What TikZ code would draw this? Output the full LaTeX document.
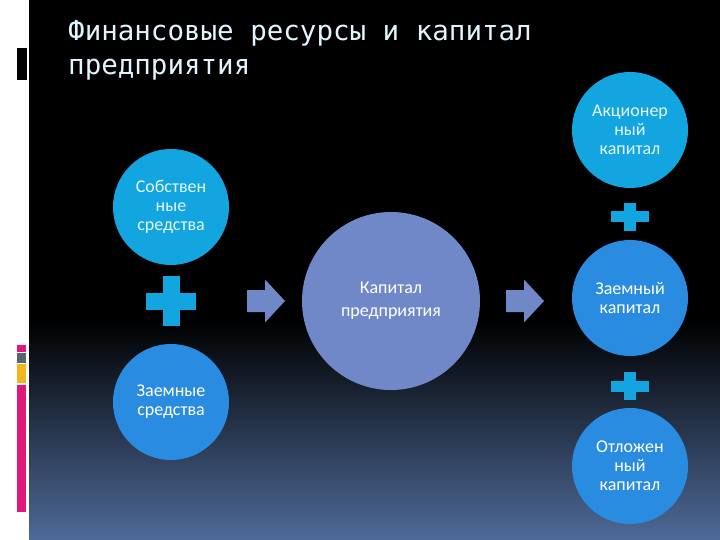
\documentclass[tikz,border=0pt]{standalone}
\usepackage{fontspec}
\setmainfont{Carlito}
\newfontfamily\titlefont{DejaVu Sans Mono}
\definecolor{cyanc}{HTML}{12A5DF}
\definecolor{bluec}{HTML}{2A8CE0}
\definecolor{violc}{HTML}{7088C8}
\definecolor{bgbot}{HTML}{4E6A98}
\definecolor{pinkc}{HTML}{E0197A}
\definecolor{grayc}{HTML}{5A6470}
\definecolor{yelc}{HTML}{F2B51C}
\begin{document}
\begin{tikzpicture}[x=1pt,y=-1pt,
  circ/.style={circle,minimum size=116pt,inner sep=0pt,align=center,font=\fontsize{18}{19}\selectfont,text=white},
  plusarm/.style={fill=cyanc},
  arrowfill/.style={fill=violc}]
\useasboundingbox (0,0) rectangle (720,540);
\fill[white] (0,0) rectangle (29,540);
\fill[black] (29,0) rectangle (720,320);
\shade[top color=black,bottom color=bgbot] (29,320) rectangle (720,540);
\fill[black] (17,48) rectangle (27,80);
\fill[pinkc] (17,345) rectangle (26,352);
\fill[grayc] (17,353) rectangle (26,363);
\fill[yelc] (17,364) rectangle (26,383);
\fill[pinkc] (17,385) rectangle (26,512);
\node[anchor=north west,inner sep=0pt,align=left,text=white!88!cyan,font=\titlefont\fontsize{27.5}{34}\selectfont] (title) at (68,20) {Финансовые ресурсы и капитал\\предприятия};
\node[circ,fill=cyanc,text=white!90!cyan] (sob) at (171,207) {Собствен\\ные\\средства};
\node[circ,fill=bluec] (zs) at (171,402) {Заемные\\средства};
\node[circle,minimum size=178pt,inner sep=0pt,fill=violc,align=center,text=white,font=\fontsize{18}{23}\selectfont] (kap) at (391,301) {Капитал\\предприятия};
\node[circ,fill=cyanc,text=white!90!cyan] (ak) at (630,130) {Акционер\\ный\\капитал};
\node[circ,fill=bluec] (zk) at (630,298) {Заемный\\капитал};
\node[circ,fill=bluec] (ot) at (630,466) {Отложен\\ный\\капитал};
\coordinate (a1) at (247,301);
\coordinate (a2) at (506,301);
\foreach \c in {a1,a2}{
  \fill[arrowfill] (\c) ++(0,-11) -- ++(18,0) -- ++(0,-10.5) -- ++(20,21.5) -- ++(-20,21.5) -- ++(0,-10.5) -- ++(-18,0) -- cycle;}
% plus signs
\coordinate (p1) at (171,301);
\fill[plusarm] ([xshift=-25pt,yshift=-8.5pt]p1) rectangle ([xshift=25pt,yshift=8.5pt]p1);
\fill[plusarm] ([xshift=-8.5pt,yshift=-25pt]p1) rectangle ([xshift=8.5pt,yshift=25pt]p1);
\coordinate (p2) at (630,217);
\fill[plusarm] ([xshift=-19pt,yshift=-5.5pt]p2) rectangle ([xshift=19pt,yshift=5.5pt]p2);
\fill[plusarm] ([xshift=-6pt,yshift=-14pt]p2) rectangle ([xshift=6pt,yshift=14pt]p2);
\coordinate (p3) at (630,386);
\fill[plusarm] ([xshift=-19pt,yshift=-5.5pt]p3) rectangle ([xshift=19pt,yshift=5.5pt]p3);
\fill[plusarm] ([xshift=-6pt,yshift=-14pt]p3) rectangle ([xshift=6pt,yshift=14pt]p3);
\end{tikzpicture}
\end{document}
